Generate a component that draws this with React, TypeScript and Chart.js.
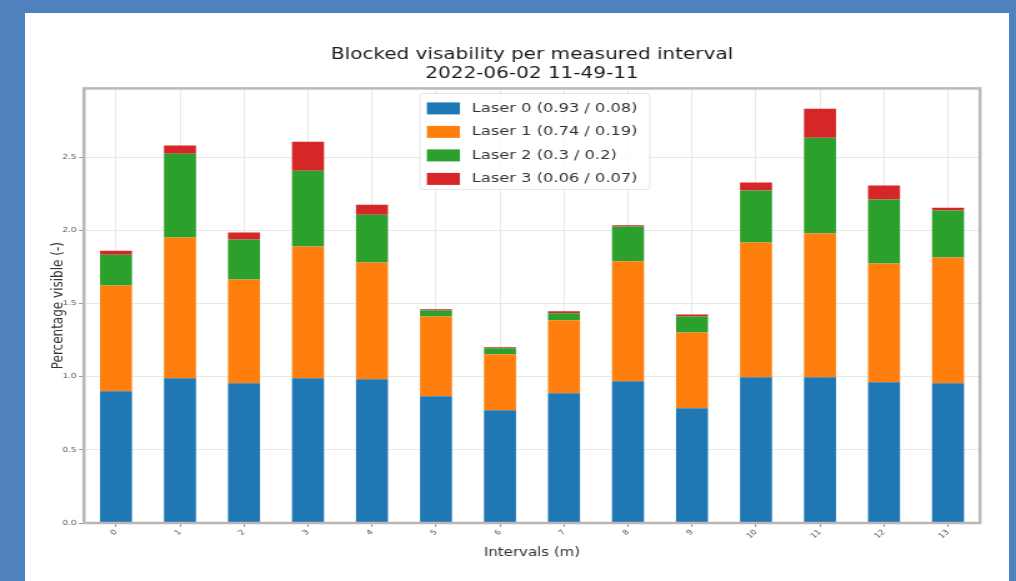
import React, { useEffect, useRef } from "react";
import { Chart, registerables } from "chart.js";

Chart.register(...registerables);

const titleLines = ["Blocked visability per measured interval", "2022-06-02 11-49-11"];
const categories = ["0", "1", "2", "3", "4", "5", "6", "7", "8", "9", "10", "11", "12", "13"];
const laser0 = [0.9, 0.989, 0.955, 0.989, 0.982, 0.866, 0.771, 0.887, 0.969, 0.784, 0.996, 0.996, 0.962, 0.955];
const laser1 = [0.723, 0.962, 0.709, 0.9, 0.798, 0.546, 0.382, 0.498, 0.819, 0.518, 0.921, 0.982, 0.812, 0.859];
const laser2 = [0.211, 0.573, 0.273, 0.518, 0.327, 0.041, 0.041, 0.048, 0.239, 0.109, 0.355, 0.655, 0.437, 0.321];
const laser3 = [0.027, 0.055, 0.048, 0.198, 0.068, 0.007, 0.007, 0.014, 0.007, 0.014, 0.055, 0.198, 0.095, 0.02];
const seriesLabels = ["Laser 0 (0.93 / 0.08)", "Laser 1 (0.74 / 0.19)", "Laser 2 (0.3 / 0.2)", "Laser 3 (0.06 / 0.07)"];
const seriesColors = ["#1f77b4", "#ff7f0e", "#2ca02c", "#d62728"];
const yTickValues = [0, 0.5, 1.0, 1.5, 2.0, 2.5];
const yMax = 2.97;
const xTitle = "Intervals (m)";
const yTitle = "Percentage visible (-)";

const FONT = "'DejaVu Sans', sans-serif";
// the reference picture is stretched horizontally; draw narrower and stretch with CSS
const SX = 1.25;
const CW = Math.round(1016 / SX);
const CH = 581;

export default function App() {
  const ref = useRef<HTMLCanvasElement | null>(null);

  useEffect(() => {
    if (!ref.current) return;
    const seriesData = [laser0, laser1, laser2, laser3];

    const framePlugin = {
      id: "frameAndLegend",
      afterDraw(chart: any) {
        const { ctx, chartArea } = chart;
        ctx.save();
        ctx.strokeStyle = "#bcb7b7";
        ctx.lineWidth = 2.5;
        ctx.strokeRect(chartArea.left, chartArea.top, chartArea.right - chartArea.left, chartArea.bottom - chartArea.top);

        // legend
        const lx = chartArea.left + 336 / SX;
        const ly = chartArea.top + 5;
        const lw = 230 / SX;
        const lh = 96;
        ctx.globalAlpha = 0.8;
        ctx.fillStyle = "#ffffff";
        ctx.strokeStyle = "#dddddd";
        ctx.lineWidth = 1;
        ctx.beginPath();
        (ctx as any).roundRect(lx, ly, lw, lh, 3);
        ctx.fill();
        ctx.stroke();
        ctx.globalAlpha = 1;
        ctx.font = `13px ${FONT}`;
        ctx.textBaseline = "middle";
        ctx.textAlign = "left";
        seriesLabels.forEach((lab, i) => {
          const ry = ly + 15 + i * 23.5;
          ctx.fillStyle = seriesColors[i];
          ctx.fillRect(lx + 7 / SX, ry - 6, 33 / SX, 12);
          ctx.fillStyle = "#333333";
          ctx.fillText(lab, lx + 52 / SX, ry);
        });
        ctx.restore();
      },
    };

    const chart = new Chart(ref.current, {
      type: "bar",
      data: {
        labels: categories,
        datasets: seriesData.map((d, i) => ({
          label: seriesLabels[i],
          data: d,
          backgroundColor: seriesColors[i],
          borderWidth: 0,
          barPercentage: 0.5,
          categoryPercentage: 1.0,
        })),
      },
      options: {
        responsive: false,
        animation: false,
        devicePixelRatio: 1,
        layout: { padding: { left: 44 / SX, right: 36 / SX, top: 0, bottom: 0 } },
        plugins: {
          legend: { display: false },
          tooltip: { enabled: false },
          title: {
            display: true,
            fullSize: false,
            text: titleLines,
            color: "#1a1a1a",
            font: { family: FONT, size: 16, weight: "normal", lineHeight: 1.2 },
            padding: { top: 45, bottom: 5 },
          },
        },
        scales: {
          x: {
            stacked: true,
            grid: { offset: false, color: "#e8e8e8", lineWidth: 1, drawTicks: true, tickLength: 4, tickColor: "#999" },
            border: { display: false },
            ticks: {
              color: "#555",
              font: { family: FONT, size: 7 },
              maxRotation: 45,
              minRotation: 45,
              padding: 1,
            },
            title: {
              display: true,
              text: xTitle,
              color: "#333",
              font: { family: FONT, size: 12 },
              padding: { top: 4, bottom: 21 },
            },
            afterFit(scale: any) {
              scale.height = 58;
            },
          },
          y: {
            stacked: true,
            min: 0,
            max: yMax,
            grid: { color: "#e8e8e8", lineWidth: 1, drawTicks: true, tickLength: 4, tickColor: "#999" },
            border: { display: false },
            afterBuildTicks(scale: any) {
              scale.ticks = yTickValues.map((v) => ({ value: v }));
            },
            ticks: {
              color: "#555",
              font: { family: FONT, size: 7 },
              padding: 2,
              callback: (v: any) => Number(v).toFixed(1),
            },
            title: {
              display: true,
              text: yTitle,
              color: "#333",
              font: { family: FONT, size: 12 },
              padding: { top: 4, bottom: 4 },
            },
            afterFit(scale: any) {
              scale.width = 40 / SX;
            },
          },
        },
      },
      plugins: [framePlugin],
    });

    return () => chart.destroy();
  }, []);

  return (
    <div style={{ position: "fixed", left: 0, top: 0, width: 1016, height: 581, background: "#4f81bd", overflow: "hidden" }}>
      <div style={{ position: "absolute", left: 25, top: 13, width: 984, height: 568, background: "#ffffff" }} />
      <canvas ref={ref} width={CW} height={CH} style={{ position: "absolute", left: 0, top: 0, width: 1016, height: 581 }} />
    </div>
  );
}
